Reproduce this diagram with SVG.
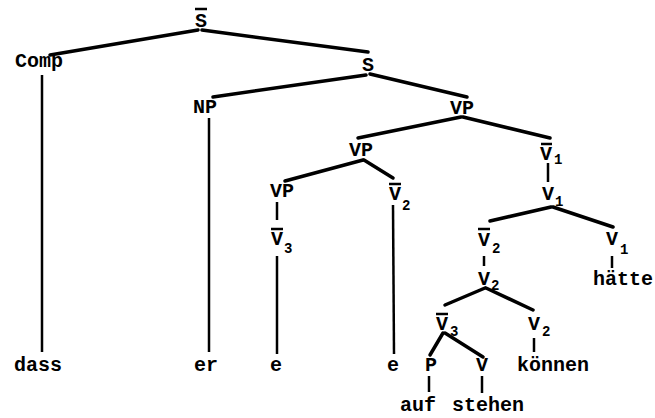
<svg xmlns="http://www.w3.org/2000/svg" width="655" height="418" viewBox="0 0 655 418">
<style>
text{font-family:"Liberation Mono","DejaVu Sans Mono",monospace;font-weight:bold;fill:#000;font-size:20px}
.m{text-anchor:middle}
.s{font-size:14px}
.e{stroke:#000;stroke-width:3.5;fill:none;stroke-linecap:round}
.v{stroke:#000;stroke-width:2.5;fill:none}
.b{stroke:#000;stroke-width:2.5}
</style>
<rect width="655" height="418" fill="#fff"/>
<g id="connectors">
<line class="e" x1="198" y1="30" x2="50" y2="55"/>
<line class="e" x1="202" y1="30" x2="368" y2="52"/>
<line class="e" x1="366" y1="75" x2="213" y2="97"/>
<line class="e" x1="370" y1="74" x2="467" y2="97"/>
<line class="e" x1="461" y1="117" x2="358" y2="138"/>
<line class="e" x1="463" y1="117" x2="550" y2="138"/>
<line class="e" x1="363" y1="160" x2="285" y2="181"/>
<line class="e" x1="364" y1="160" x2="393" y2="178"/>
<line class="e" x1="551" y1="207" x2="490" y2="221"/>
<line class="e" x1="553" y1="207" x2="613" y2="227"/>
<line class="e" x1="485" y1="288" x2="445" y2="305"/>
<line class="e" x1="486" y1="288" x2="533" y2="310"/>
<line class="e" x1="443" y1="333" x2="430" y2="355"/>
<line class="e" x1="445" y1="333" x2="483" y2="357"/>
<line class="v" x1="42" y1="75" x2="42" y2="352"/>
<line class="v" x1="209" y1="118" x2="209" y2="352"/>
<line class="v" x1="277" y1="202" x2="277" y2="220"/>
<line class="v" x1="277" y1="256" x2="277" y2="354"/>
<line class="v" x1="393" y1="205" x2="394" y2="354"/>
<line class="v" x1="548" y1="163" x2="548" y2="182"/>
<line class="v" x1="484" y1="256" x2="484" y2="266"/>
<line class="v" x1="612" y1="256" x2="612" y2="268"/>
<line class="v" x1="534" y1="338" x2="534" y2="352"/>
<line class="v" x1="429" y1="376" x2="429" y2="392"/>
<line class="v" x1="482" y1="376" x2="482" y2="393"/>
</g>
<g id="Sbar"><line class="b" x1="195" y1="9" x2="207" y2="9"/><text class="m" x="201" y="27">S</text></g>
<g id="Comp"><text class="m" x="39" y="67">Comp</text></g>
<g id="S"><text class="m" x="368" y="71">S</text></g>
<g id="NP"><text class="m" x="205" y="113">NP</text></g>
<g id="VP1"><text class="m" x="462" y="114">VP</text></g>
<g id="VP2"><text class="m" x="361" y="156">VP</text></g>
<g id="Vbar1a"><line class="b" x1="541" y1="144" x2="552" y2="144"/><text class="m" x="546" y="160">V</text><text class="s" x="554" y="164">1</text></g>
<g id="V1a"><text class="m" x="548" y="200">V</text><text class="s" x="555" y="206">1</text></g>
<g id="VP3"><text class="m" x="282" y="197">VP</text></g>
<g id="Vbar3a"><line class="b" x1="271" y1="229" x2="283" y2="229"/><text class="m" x="277" y="245">V</text><text class="s" x="284" y="253">3</text></g>
<g id="Vbar2a"><line class="b" x1="389" y1="184" x2="401" y2="184"/><text class="m" x="395" y="200">V</text><text class="s" x="402" y="210">2</text></g>
<g id="Vbar2b"><line class="b" x1="478" y1="229" x2="490" y2="229"/><text class="m" x="484" y="246">V</text><text class="s" x="492" y="253">2</text></g>
<g id="V1b"><text class="m" x="612" y="245">V</text><text class="s" x="620" y="254">1</text></g>
<g id="V2a"><text class="m" x="484" y="285">V</text><text class="s" x="491" y="290">2</text></g>
<g id="haette"><text x="593" y="285">hätte</text></g>
<g id="Vbar3b"><line class="b" x1="436" y1="314" x2="448" y2="314"/><text class="m" x="442" y="330">V</text><text class="s" x="450" y="336">3</text></g>
<g id="V2b"><text class="m" x="534" y="330">V</text><text class="s" x="542" y="336">2</text></g>
<g id="P"><text class="m" x="431" y="371">P</text></g>
<g id="V"><text class="m" x="482" y="371">V</text></g>
<g id="koennen"><text x="517" y="371">können</text></g>
<g id="e2"><text class="m" x="393" y="371">e</text></g>
<g id="e1"><text class="m" x="276" y="371">e</text></g>
<g id="er"><text class="m" x="206" y="371">er</text></g>
<g id="dass"><text class="m" x="38" y="371">dass</text></g>
<g id="auf"><text x="400" y="411">auf</text></g>
<g id="stehen"><text x="452" y="411">stehen</text></g>
</svg>
